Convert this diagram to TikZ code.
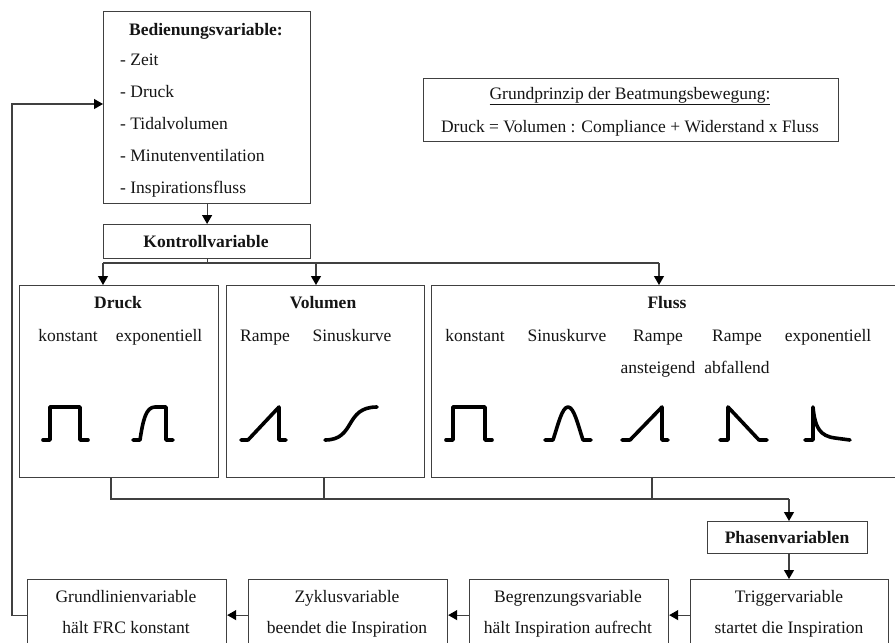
\documentclass[tikz,border=0pt]{standalone}
\usepackage{fontspec}
\setmainfont{Liberation Serif}
\usetikzlibrary{arrows.meta}
\definecolor{boxgray}{HTML}{404040}
\definecolor{txt}{HTML}{151515}
\tikzset{
  box/.style={draw=boxgray, line width=1.2pt, anchor=north west, inner sep=0pt},
  conn/.style={draw=boxgray, line width=1.2pt},
  arr/.style={conn, -{Triangle[length=9pt,width=10pt,color=black]}},
  lbl/.style={anchor=base, inner sep=0pt, text=txt, font=\fontsize{17.5}{21}\selectfont},
  lbll/.style={lbl, anchor=base west},
  blbl/.style={lbl, font=\fontsize{17.5}{21}\selectfont\bfseries},
  icon/.style={draw=black, line width=3.6pt, line cap=round, line join=round}
}
\begin{document}
\begin{tikzpicture}[x=1pt,y=-1pt]
\useasboundingbox (0,0) rectangle (895,643);
\clip (0,0) rectangle (895,643);
\fill[white] (0,0) rectangle (895,643);
% boxes
\node[box, minimum width=207pt, minimum height=192pt] (bed) at (103,11) {};
\node[box, minimum width=207pt, minimum height=34pt] (kon) at (103,224) {};
\node[box, minimum width=415pt, minimum height=63pt] (prin) at (423,78) {};
\node[box, minimum width=199pt, minimum height=192pt] (druck) at (19,285) {};
\node[box, minimum width=198pt, minimum height=192pt] (vol) at (226,285) {};
\node[box, minimum width=470pt, minimum height=192pt] (fluss) at (431,285) {};
\node[box, minimum width=160pt, minimum height=32pt] (phasen) at (707,521) {};
\node[box, minimum width=198pt, minimum height=71pt] (trigger) at (690,579) {};
\node[box, minimum width=199pt, minimum height=71pt] (begr) at (469,579) {};
\node[box, minimum width=199pt, minimum height=71pt] (zyk) at (248,579) {};
\node[box, minimum width=199pt, minimum height=71pt] (grund) at (27,579) {};
% texts
\node[blbl] (tbed) at (206,35) {Bedienungsvariable:};
\node[lbll] (tz) at (120,65) {- Zeit};
\node[lbll] (td) at (120,97) {- Druck};
\node[lbll] (tt) at (120,129) {- Tidalvolumen};
\node[lbll] (tm) at (120,161) {- Minutenventilation};
\node[lbll] (ti) at (120,193) {- Inspirationsfluss};
\node[blbl] (tkon) at (206,247) {Kontrollvariable};
\node[lbl] (tp1) at (630,99) {\underline{Grundprinzip der Beatmungsbewegung:}};
\node[lbl] (tp2) at (630,132) {Druck = Volumen : Compliance + Widerstand x Fluss};
\node[blbl] (tdr) at (118,308) {Druck};
\node[lbl] (tdr1) at (68,341) {konstant};
\node[lbl] (tdr2) at (159,341) {exponentiell};
\node[blbl] (tvo) at (323,308) {Volumen};
\node[lbl] (tvo1) at (265,341) {Rampe};
\node[lbl] (tvo2) at (352,341) {Sinuskurve};
\node[blbl] (tfl) at (667,308) {Fluss};
\node[lbl] (tfl1) at (475,341) {konstant};
\node[lbl] (tfl2) at (567,341) {Sinuskurve};
\node[lbl] (tfl3) at (658,341) {Rampe};
\node[lbl] (tfl4) at (737,341) {Rampe};
\node[lbl] (tfl5) at (828,341) {exponentiell};
\node[lbl] (tfl3b) at (658,373) {ansteigend};
\node[lbl] (tfl4b) at (737,373) {abfallend};
\node[blbl] (tph) at (787,543) {Phasenvariablen};
\node[lbl] (ttr1) at (789,602) {Triggervariable};
\node[lbl] (ttr2) at (789,633) {startet die Inspiration};
\node[lbl] (tbe1) at (568,602) {Begrenzungsvariable};
\node[lbl] (tbe2) at (568,633) {hält Inspiration aufrecht};
\node[lbl] (tzy1) at (347,602) {Zyklusvariable};
\node[lbl] (tzy2) at (347,633) {beendet die Inspiration};
\node[lbl] (tgr1) at (126,602) {Grundlinienvariable};
\node[lbl] (tgr2) at (126,633) {hält FRC konstant};
% icons
\draw[icon] (43,440) -- (50,440) -- (50,407) -- (80,407) -- (80,440) -- (88,440);
\draw[icon] (133,440) -- (140,440) .. controls (143,420) and (146,407) .. (155,407) -- (166,407) -- (166,440) -- (173,440);
\draw[icon] (241,440) -- (248,440) -- (279,407) -- (279,440) -- (286,440);
\draw[icon] (325,440) .. controls (356,440) and (344,407) .. (377,407);
\draw[icon] (446,440) -- (453,440) -- (453,407) -- (485,407) -- (485,440) -- (492,440);
\draw[icon] (545,440) -- (553,440) .. controls (558,425) and (562,407) .. (568,407) .. controls (574,407) and (578,425) .. (583,440) -- (591,440);
\draw[icon] (622,440) -- (630,440) -- (662,407) -- (662,440) -- (668,440);
\draw[icon] (720,440) -- (728,440) -- (728,407) -- (759,440) -- (767,440);
\draw[icon] (805,440) -- (813,440) -- (813,407) .. controls (815,428) and (820,436) .. (835,438) -- (850,440);
% connectors
\draw[arr] (bed.south) -- (kon.north);
\coordinate (ka) at (103,263);
\coordinate (kv) at (316,263);
\coordinate (kb) at (659,263);
\draw[conn] (kon.south) -- (kon.south |- ka);
\draw[conn] (ka) -- (kb);
\draw[arr] (ka) -- (ka |- druck.north);
\draw[arr] (kv) -- (kv |- vol.north);
\draw[arr] (kb) -- (kb |- fluss.north);
\coordinate (ba) at (111,499);
\coordinate (bv) at (324,499);
\coordinate (bf) at (652,499);
\coordinate (bp) at (789,499);
\draw[conn] (ba |- druck.south) -- (ba) -- (bp);
\draw[conn] (bv |- vol.south) -- (bv);
\draw[conn] (bf |- fluss.south) -- (bf);
\draw[arr] (bp) -- (bp |- phasen.north);
\draw[arr] (bp |- phasen.south) -- (bp |- trigger.north);
\draw[arr] (trigger.west) -- (begr.east);
\draw[arr] (begr.west) -- (zyk.east);
\draw[arr] (zyk.west) -- (grund.east);
\coordinate (fb1) at (12,614);
\coordinate (fb2) at (12,104);
\draw[arr] (grund.west) -- (grund.west -| fb1) -- (fb2) -- (fb2 -| bed.west);
\end{tikzpicture}
\end{document}
